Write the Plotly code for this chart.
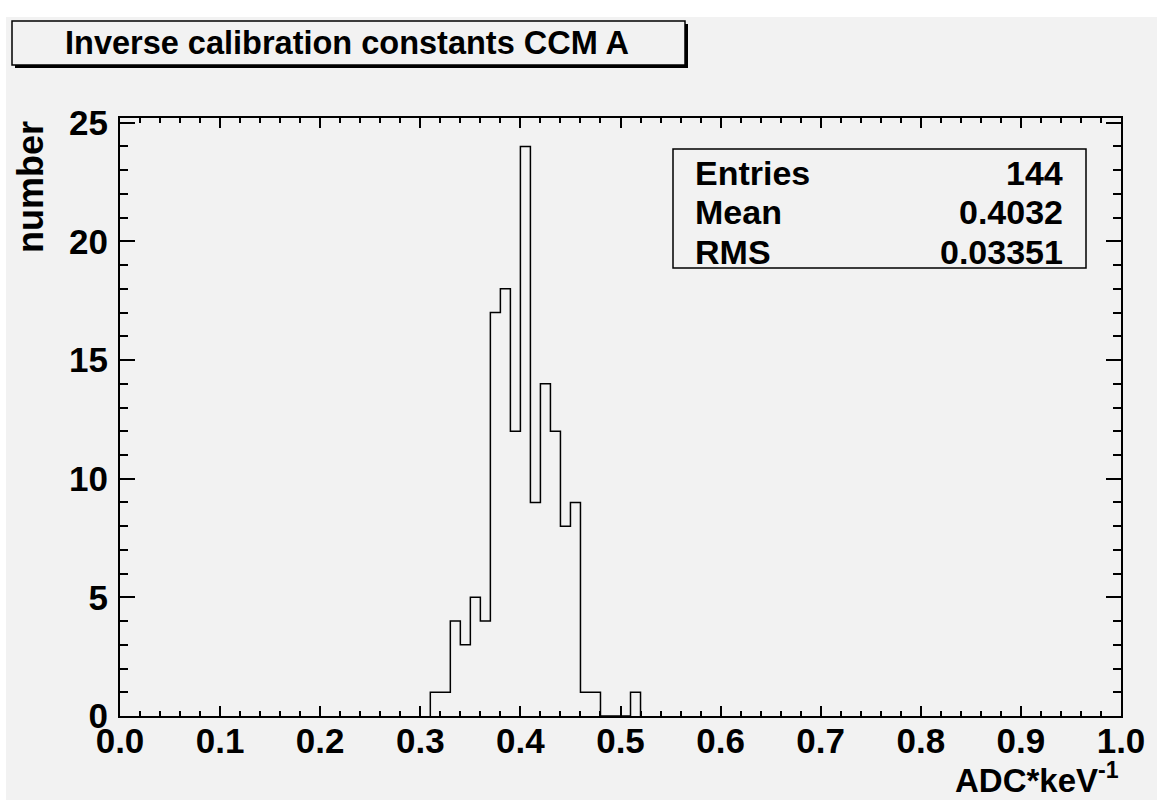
import plotly.graph_objects as go

# ---- data ----
bin_low_edges = [0.31, 0.32, 0.33, 0.34, 0.35, 0.36, 0.37, 0.38, 0.39, 0.40,
                 0.41, 0.42, 0.43, 0.44, 0.45, 0.46, 0.47, 0.48, 0.49, 0.50, 0.51]
counts = [1, 1, 4, 3, 5, 4, 17, 18, 12, 24, 9, 14, 12, 8, 9, 1, 1, 0, 0, 0, 1]
bin_width = 0.01

title_text = "Inverse calibration constants CCM A"
stats_labels = ["Entries", "Mean", "RMS"]
stats_values = ["144", "0.4032", "0.03351"]
x_title = "ADC*keV<sup>-1</sup>"
y_title = "number"

# ---- geometry helpers (pixel -> paper coords) ----
W, H = 1157, 800
L, R, T, B = 120, 1121, 118, 716


def px(x):
    return (x - L) / (R - L)


def py(y):
    return (B - y) / (B - T)


GREY = "#f2f2f2"
FONT = "Liberation Sans, Arial, Helvetica, sans-serif"

# step outline of the histogram
xs = [bin_low_edges[0]] + bin_low_edges + [bin_low_edges[-1] + bin_width]
ys = [0] + counts + [0]

fig = go.Figure()
fig.add_trace(go.Scatter(x=xs, y=ys, mode="lines", line=dict(shape="hv", color="black", width=1.5),
                         hoverinfo="skip", showlegend=False))

axis_common = dict(
    showline=True, linecolor="black", linewidth=2, mirror="allticks",
    ticks="inside", tickcolor="black", tickwidth=1.5,
    showgrid=False, zeroline=False,
    tickfont=dict(family=FONT, size=35, color="black", weight="bold"),
)

fig.update_xaxes(range=[0, 1], tick0=0, dtick=0.1, tickformat=".1f", ticklen=10,
                 minor=dict(dtick=0.02, ticklen=5, ticks="inside", tickcolor="black", tickwidth=1.5),
                 ticklabelstandoff=-7,
                 **axis_common)
fig.update_yaxes(range=[0, 25.2], tick0=0, dtick=5, ticklen=15,
                 minor=dict(dtick=1, ticklen=8, ticks="inside", tickcolor="black", tickwidth=1.5),
                 ticklabelstandoff=3,
                 **axis_common)

shapes = [
    # canvas background (white strip at top/left like the reference)
    dict(type="rect", xref="paper", yref="paper", x0=px(6), x1=px(1157), y0=py(17), y1=py(800),
         fillcolor=GREY, line=dict(width=0), layer="below"),
    # title box shadow
    dict(type="rect", xref="paper", yref="paper", x0=px(15), x1=px(688), y0=py(24), y1=py(68),
         fillcolor="black", line=dict(width=0)),
    # title box
    dict(type="rect", xref="paper", yref="paper", x0=px(12), x1=px(685), y0=py(21), y1=py(65),
         fillcolor=GREY, line=dict(color="black", width=1.5)),
    # stats box
    dict(type="rect", xref="paper", yref="paper", x0=px(673), x1=px(1086), y0=py(149), y1=py(268),
         fillcolor=GREY, line=dict(color="black", width=1.5)),
]

annotations = [
    dict(text=title_text, xref="paper", yref="paper", x=px(347), y=py(43), xanchor="center",
         yanchor="middle", showarrow=False, font=dict(family=FONT, size=32.5, color="black", weight="bold")),
    dict(text=y_title, xref="paper", yref="paper", x=px(30), y=py(119), xanchor="center",
         yanchor="top", textangle=-90, showarrow=False,
         font=dict(family=FONT, size=36, color="black", weight="bold")),
    dict(text=x_title, xref="paper", yref="paper", x=1, y=py(801), xanchor="right",
         yanchor="bottom", showarrow=False,
         font=dict(family=FONT, size=33, color="black", weight="bold")),
]

row_y = [173, 212, 252]
for lab, val, yy in zip(stats_labels, stats_values, row_y):
    annotations.append(dict(text=lab, xref="paper", yref="paper", x=px(693), y=py(yy), xanchor="left",
                            yanchor="middle", showarrow=False,
                            font=dict(family=FONT, size=34, color="black", weight="bold")))
    annotations.append(dict(text=val, xref="paper", yref="paper", x=px(1065), y=py(yy), xanchor="right",
                            yanchor="middle", showarrow=False,
                            font=dict(family=FONT, size=34, color="black", weight="bold")))

fig.update_layout(
    width=W, height=H,
    margin=dict(l=L, r=W - R, t=T, b=H - B, pad=0),
    paper_bgcolor="white", plot_bgcolor=GREY,
    shapes=shapes, annotations=annotations,
    showlegend=False,
)

fig.write_html("out.html", config={"displayModeBar": False})
